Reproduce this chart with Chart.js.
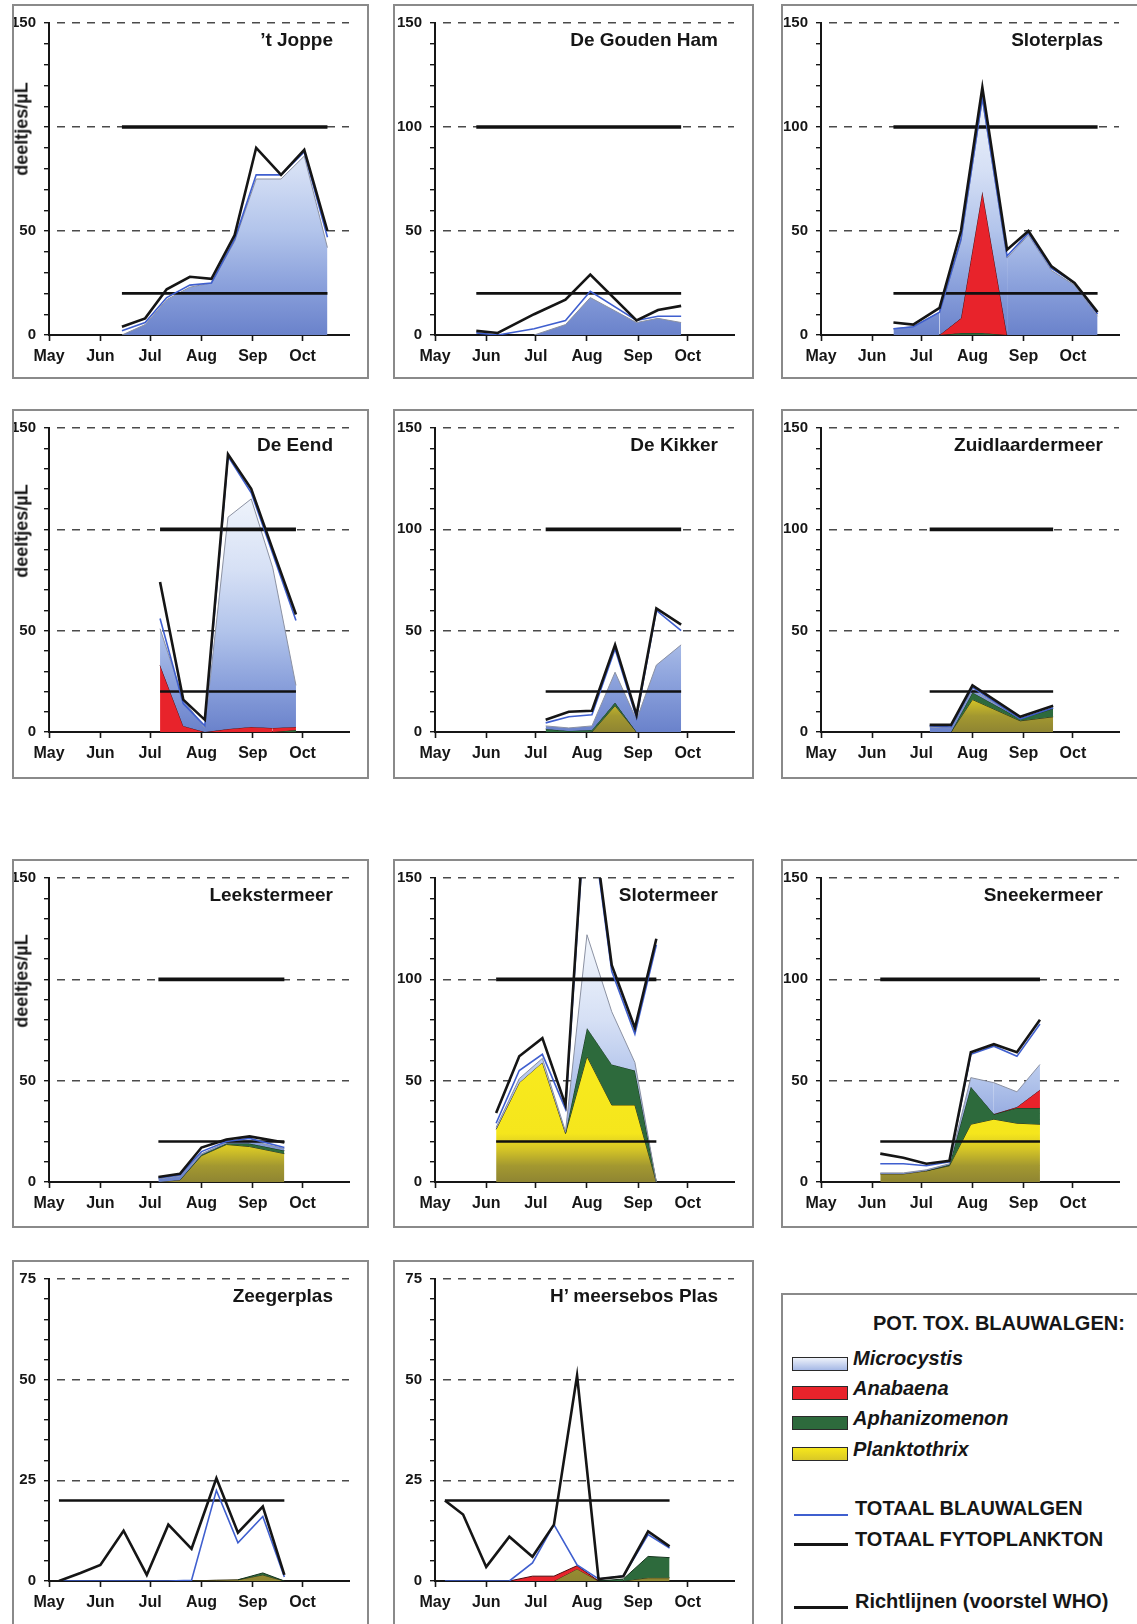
<!DOCTYPE html>
<html>
<head>
<meta charset="utf-8">
<title>Potentieel toxische blauwalgen</title>
<script src="https://cdn.jsdelivr.net/npm/chart.js@4.4.1/dist/chart.umd.min.js"></script>
<style>
  html, body { margin: 0; padding: 0; background: #fff; }
  body { width: 1137px; height: 1624px; position: relative; overflow: hidden;
         font-family: "Liberation Sans", Arial, sans-serif; color: #161616; }
  .panel { position: absolute; box-sizing: border-box; border: 2px solid #8a8a8a; background: #fff; }
  .panel canvas { position: absolute; left: 0; top: 0; }
  .lake { position: absolute; font-weight: bold; font-size: 19px; white-space: nowrap;
          transform: translateY(-50%); line-height: 22px; }
  .ytitle { position: absolute; font-weight: bold; font-size: 18px; white-space: nowrap;
            transform: translate(-50%, -50%) rotate(-90deg); }
  .legend { position: absolute; left: 781px; top: 1293px; width: 400px; height: 400px;
            box-sizing: border-box; border: 2px solid #8a8a8a; }
  .ltext { position: absolute; font-weight: bold; font-size: 20px; line-height: 24px; white-space: nowrap; }
  .ltext.it { font-style: italic; }
  .swatch { position: absolute; left: 792px; width: 54px; height: 12px; border: 1.5px solid #2a2a2a; }
  .lline { position: absolute; left: 794px; width: 54px; }
</style>
</head>
<body>

<div class="legend"></div>
<div class="ltext" style="left:873px; top:1311px;">POT. TOX. BLAUWALGEN:</div>
<div class="swatch" style="top:1357px; background:linear-gradient(#eef2fa,#a6b9e6);"></div>
<div class="ltext it" style="left:853px; top:1346px;">Microcystis</div>
<div class="swatch" style="top:1386px; background:#e8232b;"></div>
<div class="ltext it" style="left:853px; top:1376px;">Anabaena</div>
<div class="swatch" style="top:1416px; background:#2d6a3c;"></div>
<div class="ltext it" style="left:853px; top:1406px;">Aphanizomenon</div>
<div class="swatch" style="top:1447px; background:linear-gradient(#f6e71c,#d9c826);"></div>
<div class="ltext it" style="left:853px; top:1437px;">Planktothrix</div>
<div class="lline" style="top:1514px; height:2px; background:#3f5fcf;"></div>
<div class="ltext" style="left:855px; top:1496px;">TOTAAL BLAUWALGEN</div>
<div class="lline" style="top:1543px; height:3px; background:#151515;"></div>
<div class="ltext" style="left:855px; top:1527px;">TOTAAL FYTOPLANKTON</div>
<div class="lline" style="top:1606px; height:3px; background:#151515;"></div>
<div class="ltext" style="left:855px; top:1589px;">Richtlijnen (voorstel WHO)</div>

<script>
// month axis (days counted from 1 May)
var monthDays = [0, 31, 61, 92, 123, 153];
var monthLabels = ['May', 'Jun', 'Jul', 'Aug', 'Sep', 'Oct'];
var whoLevels = [20, 100];

// 't Joppe
var joppeDays  = [44, 58, 71, 85, 98, 112, 125, 140, 154, 168];
var joppeFyto  = [4, 8, 22, 28, 27, 48, 90, 77, 89, 50];
var joppeBlauw = [2, 6, 18, 24, 25, 46, 77, 77, 88, 47];
var joppeMicro = [0, 5, 17, 23, 25, 45, 75, 75, 86, 42];
var joppeAna   = [0, 0, 0, 0, 0, 0, 0, 0, 0, 0];
var joppeAphan = [0, 0, 0, 0, 0, 0, 0, 0, 0, 0];
var joppePlank = [0, 0, 0, 0, 0, 0, 0, 0, 0, 0];

// De Gouden Ham
var goudDays  = [25, 38, 60, 79, 94, 122, 135, 149];
var goudFyto  = [2, 1, 10, 17, 29, 7, 12, 14];
var goudBlauw = [1, 0, 3, 7, 21, 7, 9, 9];
var goudMicro = [0, 0, 0, 5, 18, 6, 8, 6];
var goudAna   = [0, 0, 0, 0, 0, 0, 0, 0];
var goudAphan = [0, 0, 0, 0, 0, 0, 0, 0];
var goudPlank = [0, 0, 0, 0, 0, 0, 0, 0];

// Sloterplas
var splasDays  = [44, 56, 72, 85, 98, 113, 126, 140, 154, 168];
var splasFyto  = [6, 5, 13, 50, 119, 41, 50, 33, 25, 11];
var splasBlauw = [3, 4, 11, 46, 114, 38, 49, 32, 25, 10];
var splasMicro = [3, 4, 11, 37, 44, 37, 48, 31, 24, 9];
var splasAna   = [0, 0, 0, 7, 68, 0, 0, 0, 0, 0];
var splasAphan = [0, 0, 0, 1, 1, 0, 0, 0, 0, 0];
var splasPlank = [0, 0, 0, 0, 0, 0, 0, 0, 0, 0];

// De Eend
var eendDays  = [67, 81, 94, 108, 122, 135, 149];
var eendFyto  = [74, 16, 6, 137, 120, 90, 58];
var eendBlauw = [56, 14, 3, 136, 118, 88, 55];
var eendMicro = [18, 13, 2, 104.5, 112.5, 79, 20.5];
var eendAna   = [33, 3, 0, 1.5, 2.5, 2, 1.5];
var eendAphan = [0, 0, 0, 0, 0, 0, 1];
var eendPlank = [0, 0, 0, 0, 0, 0, 0];

// De Kikker
var kikDays  = [67, 81, 95, 109, 122, 134, 149];
var kikFyto  = [6, 10, 10.5, 43, 8.5, 61, 53];
var kikBlauw = [4.5, 7.5, 8.5, 41, 7, 60, 50];
var kikMicro = [1.5, 1.5, 2, 15, 6, 33, 43];
var kikAna   = [0, 0, 0, 0, 0, 0, 0];
var kikAphan = [1.5, 0.5, 1, 1.5, 0, 0, 0];
var kikPlank = [0, 0, 0, 13, 0, 0, 0];

// Zuidlaardermeer
var zuidDays  = [66, 79, 92, 121, 141];
var zuidFyto  = [3.5, 3.5, 23, 7.5, 13];
var zuidBlauw = [3, 2.5, 22, 6.5, 12];
var zuidMicro = [2.5, 2, 1.5, 0, 0];
var zuidAna   = [0, 0, 0, 0, 0];
var zuidAphan = [0, 0, 3.5, 1, 4];
var zuidPlank = [0, 0, 16, 5.5, 7.5];

// Leekstermeer
var leekDays  = [66, 79, 92, 107, 121, 142];
var leekFyto  = [2.5, 4, 17, 21, 22.5, 19.5];
var leekBlauw = [2, 3.5, 15, 20, 21.5, 17];
var leekMicro = [1.5, 2, 0.5, 0.5, 1.5, 1];
var leekAna   = [0, 0, 0, 0, 0, 0];
var leekAphan = [0, 0, 0.5, 0.5, 1.5, 1.5];
var leekPlank = [0, 1, 13, 18.5, 17.5, 14];

// Slotermeer
var smeerDays  = [37, 51, 65, 79, 92, 107, 121, 134];
var smeerFyto  = [34, 62, 71, 38, 200, 107, 76, 120];
var smeerBlauw = [29, 55, 63, 36, 196, 104, 73, 117];
var smeerMicro = [1, 2, 2, 1, 46, 26, 4, 0];
var smeerAna   = [0, 0, 0, 0, 0, 0, 0, 0];
var smeerAphan = [0, 0, 0, 0, 14, 20, 17, 0];
var smeerPlank = [26, 49, 59, 24, 62, 38, 38, 0];

// Sneekermeer
var sneekDays  = [36, 50, 64, 78, 91, 105, 119, 133];
var sneekFyto  = [14, 12, 9, 10.5, 64, 68, 64, 80];
var sneekBlauw = [9, 9, 8, 10, 63, 67, 62, 78];
var sneekMicro = [0.5, 0.5, 0.5, 0.5, 4.5, 15.5, 7.5, 12.5];
var sneekAna   = [0, 0, 0, 0, 0, 0, 0.5, 9];
var sneekAphan = [0, 0, 0, 0.5, 18.5, 2.5, 7.5, 8];
var sneekPlank = [4, 4, 5.5, 8, 28.5, 31, 29, 28.5];

// Zeegerplas
var zeegDays  = [6, 19, 31, 45, 59, 72, 86, 101, 114, 129, 142];
var zeegFyto  = [0, 2, 4, 12.5, 1.5, 14, 8, 25.5, 12, 18.5, 1.5];
var zeegBlauw = [0, 0, 0, 0, 0, 0, 0.2, 22.5, 9.5, 16, 1];
var zeegMicro = [0, 0, 0, 0, 0, 0, 0, 0, 0, 0, 0];
var zeegAna   = [0, 0, 0, 0, 0, 0, 0, 0, 0, 0, 0];
var zeegAphan = [0, 0, 0, 0, 0, 0, 0, 0, 0, 0.5, 0];
var zeegPlank = [0, 0, 0, 0, 0, 0, 0, 0.2, 0.3, 1.5, 0];

// H' meersebos Plas
var hmeerDays  = [6, 17, 31, 45, 59, 72, 86, 99, 114, 129, 142];
var hmeerFyto  = [20, 16.5, 3.5, 11, 6, 14, 51, 0.5, 1.2, 12.3, 8.6];
var hmeerBlauw = [0, 0, 0, 0, 4.5, 14, 4, 0.5, 1.2, 11.5, 8.2];
var hmeerMicro = [0, 0, 0, 0, 0, 0, 0, 0, 0, 0, 0];
var hmeerAna   = [0, 0, 0, 0, 1.2, 1.2, 0.8, 0, 0, 0, 0];
var hmeerAphan = [0, 0, 0, 0, 0, 0, 0, 0, 0.5, 5.3, 5];
var hmeerPlank = [0, 0, 0, 0, 0, 0, 3, 0, 0, 0.8, 0.8];

// page grid of the panels
var colBoxLeft = [12, 393, 781];
var colBoxWidth = [357, 361, 358];
var colAxisLeft = [49, 435, 821];
var colAxisRight = [349, 734, 1119];
var rowBoxTop = [4, 409, 859, 1260];
var rowBoxHeight = [375, 370, 369, 380];
var rowTopY = [20, 424, 874, 1274];
var rowZeroY = [335, 732, 1182, 1581];
var BORDER = 2;

var lakes = [
  { name: '\u2019t Joppe', col: 0, row: 0, yMax: 150, yTitle: true,
    days: joppeDays, fyto: joppeFyto, blauw: joppeBlauw, micro: joppeMicro, ana: joppeAna, aphan: joppeAphan, plank: joppePlank },
  { name: 'De Gouden Ham', col: 1, row: 0, yMax: 150,
    days: goudDays, fyto: goudFyto, blauw: goudBlauw, micro: goudMicro, ana: goudAna, aphan: goudAphan, plank: goudPlank },
  { name: 'Sloterplas', col: 2, row: 0, yMax: 150,
    days: splasDays, fyto: splasFyto, blauw: splasBlauw, micro: splasMicro, ana: splasAna, aphan: splasAphan, plank: splasPlank },
  { name: 'De Eend', col: 0, row: 1, yMax: 150, yTitle: true,
    days: eendDays, fyto: eendFyto, blauw: eendBlauw, micro: eendMicro, ana: eendAna, aphan: eendAphan, plank: eendPlank },
  { name: 'De Kikker', col: 1, row: 1, yMax: 150,
    days: kikDays, fyto: kikFyto, blauw: kikBlauw, micro: kikMicro, ana: kikAna, aphan: kikAphan, plank: kikPlank },
  { name: 'Zuidlaardermeer', col: 2, row: 1, yMax: 150,
    days: zuidDays, fyto: zuidFyto, blauw: zuidBlauw, micro: zuidMicro, ana: zuidAna, aphan: zuidAphan, plank: zuidPlank },
  { name: 'Leekstermeer', col: 0, row: 2, yMax: 150, yTitle: true,
    days: leekDays, fyto: leekFyto, blauw: leekBlauw, micro: leekMicro, ana: leekAna, aphan: leekAphan, plank: leekPlank },
  { name: 'Slotermeer', col: 1, row: 2, yMax: 150,
    days: smeerDays, fyto: smeerFyto, blauw: smeerBlauw, micro: smeerMicro, ana: smeerAna, aphan: smeerAphan, plank: smeerPlank },
  { name: 'Sneekermeer', col: 2, row: 2, yMax: 150,
    days: sneekDays, fyto: sneekFyto, blauw: sneekBlauw, micro: sneekMicro, ana: sneekAna, aphan: sneekAphan, plank: sneekPlank },
  { name: 'Zeegerplas', col: 0, row: 3, yMax: 75,
    days: zeegDays, fyto: zeegFyto, blauw: zeegBlauw, micro: zeegMicro, ana: zeegAna, aphan: zeegAphan, plank: zeegPlank },
  { name: 'H\u2019 meersebos Plas', col: 1, row: 3, yMax: 75,
    days: hmeerDays, fyto: hmeerFyto, blauw: hmeerBlauw, micro: hmeerMicro, ana: hmeerAna, aphan: hmeerAphan, plank: hmeerPlank }
];

Chart.defaults.font.family = '"Liberation Sans", Arial, sans-serif';
Chart.defaults.font.weight = 'bold';
Chart.defaults.color = '#161616';

// vertical gradient, stops given as [value, colour] on the y axis
function valueGradient(stops) {
  return function (context) {
    var chart = context.chart;
    if (!chart.chartArea) return stops[0][1];
    var y = chart.scales.y;
    var v0 = stops[0][0], v1 = stops[stops.length - 1][0];
    var g = chart.ctx.createLinearGradient(0, y.getPixelForValue(v0), 0, y.getPixelForValue(v1));
    stops.forEach(function (s) { g.addColorStop((s[0] - v0) / (v1 - v0), s[1]); });
    return g;
  };
}

var yellowFill = valueGradient([[0, '#8f8532'], [8, '#a39830'], [16, '#d4c426'], [24, '#f5e61c'], [60, '#f8ea1e']]);
var blueFill = valueGradient([[0, '#6a82cb'], [25, '#8ca2dc'], [50, '#b2c4eb'], [80, '#d6e0f5'], [115, '#eef3fb'], [150, '#fbfcfe']]);

function addArrays(a, b) {
  return a.map(function (v, i) { return v + b[i]; });
}

lakes.forEach(function (lake) {
  var bx = colBoxLeft[lake.col], bw = colBoxWidth[lake.col];
  var by = rowBoxTop[lake.row], bh = rowBoxHeight[lake.row];
  var cw = bw - 2 * BORDER, ch = bh - 2 * BORDER;

  var panel = document.createElement('div');
  panel.className = 'panel';
  panel.style.left = bx + 'px';
  panel.style.top = by + 'px';
  panel.style.width = bw + 'px';
  panel.style.height = bh + 'px';
  document.body.appendChild(panel);

  var canvas = document.createElement('canvas');
  canvas.width = cw;
  canvas.height = ch;
  canvas.style.width = cw + 'px';
  canvas.style.height = ch + 'px';
  panel.appendChild(canvas);

  var label = document.createElement('div');
  label.className = 'lake';
  label.textContent = lake.name;
  label.style.right = '34px';
  label.style.top = '34px';
  panel.appendChild(label);

  var topY = rowTopY[lake.row], zeroY = rowZeroY[lake.row];
  if (lake.yTitle) {
    var t = document.createElement('div');
    t.className = 'ytitle';
    t.textContent = 'deeltjes/\u00b5L';
    t.style.left = '22px';
    t.style.top = (zeroY - (zeroY - topY) * 100 / 150 + 4) + 'px';
    document.body.appendChild(t);
  }

  var areaLeft = colAxisLeft[lake.col] - (bx + BORDER);
  var areaRight = cw - (colAxisRight[lake.col] - (bx + BORDER));
  var areaTop = topY - (by + BORDER);
  var areaBottom = ch - (zeroY - (by + BORDER));

  var days = lake.days;
  function pts(vals) {
    return days.map(function (d, i) { return { x: d, y: vals[i] }; });
  }
  // hide the outline of a layer where that layer is empty
  function layerEdge(layer, colour) {
    return function (ctx) {
      return (layer[ctx.p0DataIndex] + layer[ctx.p1DataIndex]) > 0 ? colour : 'rgba(0,0,0,0)';
    };
  }

  var top1 = lake.plank;
  var top2 = addArrays(top1, lake.aphan);
  var top3 = addArrays(top2, lake.ana);
  var top4 = addArrays(top3, lake.micro);

  var datasets = [
    { data: pts(top1), fill: 'origin', backgroundColor: yellowFill, borderWidth: 1,
      segment: { borderColor: layerEdge(lake.plank, '#3a3512') }, order: 6 },
    { data: pts(top2), fill: '-1', backgroundColor: '#2d6a3c', borderWidth: 1,
      segment: { borderColor: layerEdge(lake.aphan, '#14331c') }, order: 5 },
    { data: pts(top3), fill: '-1', backgroundColor: '#e8232b', borderWidth: 1,
      segment: { borderColor: layerEdge(lake.ana, '#4d0b0e') }, order: 4 },
    { data: pts(top4), fill: '-1', backgroundColor: blueFill, borderWidth: 1,
      segment: { borderColor: layerEdge(lake.micro, '#8b91a2') }, order: 3 }
  ];

  var first = days[0], last = days[days.length - 1];
  whoLevels.forEach(function (lvl) {
    if (lvl > lake.yMax) return;
    datasets.push({ data: [{ x: first, y: lvl }, { x: last, y: lvl }], borderColor: '#111',
      borderWidth: lvl === 100 ? 3.6 : 2.6, fill: false, order: 2 });
  });

  datasets.push({ data: pts(lake.blauw), borderColor: '#3f5fcf', borderWidth: 1.6, fill: false, order: 1 });
  datasets.push({ data: pts(lake.fyto), borderColor: '#151515', borderWidth: 2.6, fill: false, order: 0 });

  var major = lake.yMax / 3;

  new Chart(canvas.getContext('2d'), {
    type: 'line',
    data: { datasets: datasets },
    options: {
      responsive: false,
      animation: false,
      events: [],
      devicePixelRatio: 1,
      elements: { point: { radius: 0 }, line: { tension: 0 } },
      layout: { padding: { top: areaTop, right: areaRight, left: 0, bottom: 0 } },
      plugins: { legend: { display: false }, tooltip: { enabled: false } },
      scales: {
        x: {
          type: 'linear', min: 0, max: 181,
          afterBuildTicks: function (axis) {
            axis.ticks = monthDays.map(function (v) { return { value: v }; });
          },
          afterFit: function (scale) { scale.height = areaBottom; },
          ticks: {
            autoSkip: false, maxRotation: 0, padding: 6,
            font: { size: 16, weight: 'bold' }, color: '#161616',
            callback: function (v, i) { return monthLabels[i]; }
          },
          grid: { drawOnChartArea: false, tickLength: 6, tickColor: '#161616', tickWidth: 1.6 },
          border: { color: '#161616', width: 2 }
        },
        y: {
          min: 0, max: lake.yMax,
          afterFit: function (scale) { scale.width = areaLeft; },
          ticks: {
            stepSize: lake.yMax / 15, autoSkip: false, padding: 8,
            font: { size: 15, weight: 'bold' }, color: '#161616',
            callback: function (v) {
              if (v % major !== 0) return '';
              if (lake.yTitle && v === 100) return '';
              return v;
            }
          },
          grid: {
            color: function (ctx) {
              var v = ctx.tick ? ctx.tick.value : 0;
              return (v > 0 && v % major === 0) ? '#4a4a4a' : 'rgba(0,0,0,0)';
            },
            lineWidth: 1.4, tickLength: 5, tickColor: '#161616', tickWidth: 1.4
          },
          border: { color: '#161616', width: 2, dash: [8, 7], dashOffset: 8 }
        }
      }
    }
  });
});
</script>
</body>
</html>
